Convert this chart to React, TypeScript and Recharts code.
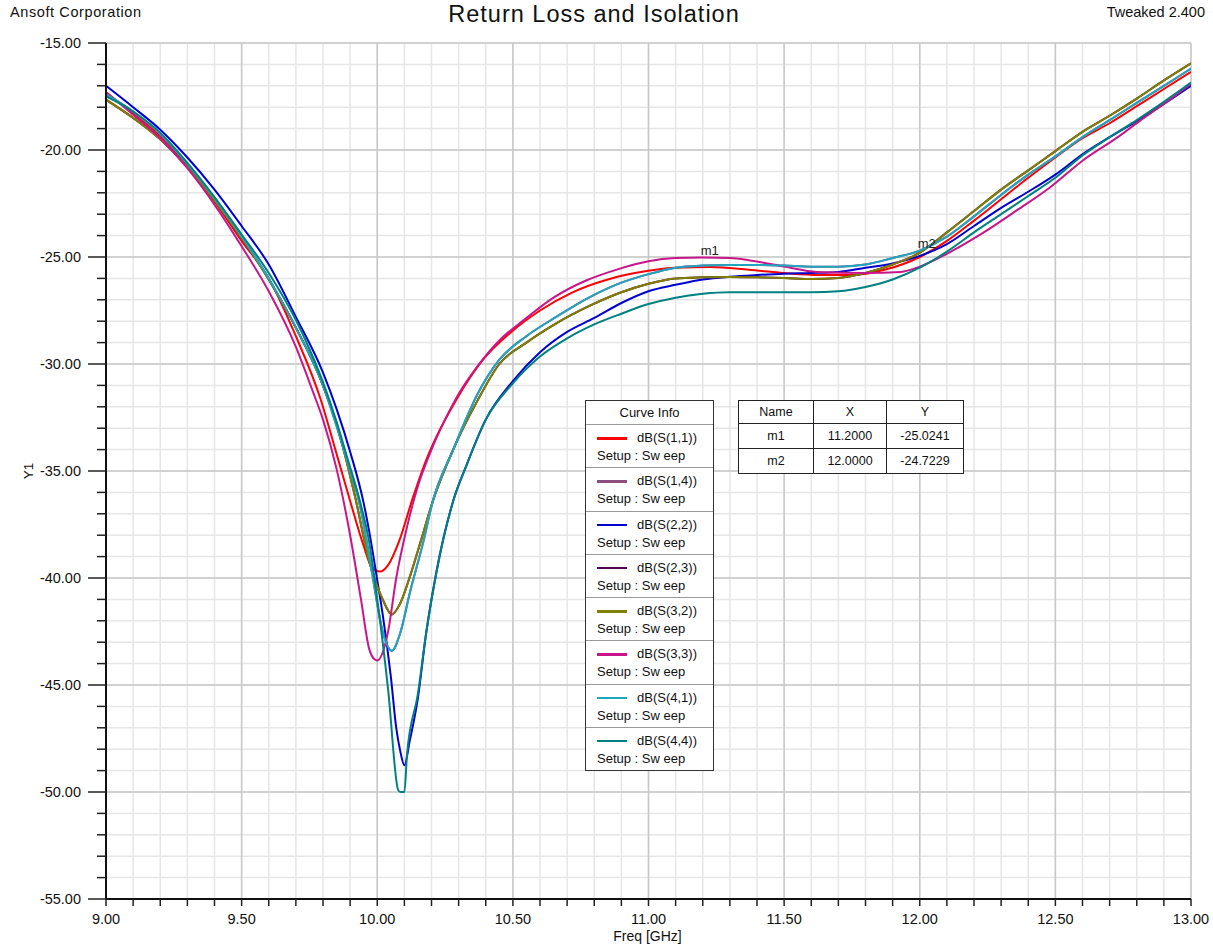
import React from 'react';
import { LineChart, Line, XAxis, YAxis, CartesianGrid, ReferenceDot } from 'recharts';

// ---------- tick values ----------
const X_TICKS = [
  9.0, 9.1, 9.2, 9.3, 9.4, 9.5, 9.6, 9.7, 9.8, 9.9,
  10.0, 10.1, 10.2, 10.3, 10.4, 10.5, 10.6, 10.7, 10.8, 10.9,
  11.0, 11.1, 11.2, 11.3, 11.4, 11.5, 11.6, 11.7, 11.8, 11.9,
  12.0, 12.1, 12.2, 12.3, 12.4, 12.5, 12.6, 12.7, 12.8, 12.9, 13.0,
];
const X_MAJOR = [9.0, 9.5, 10.0, 10.5, 11.0, 11.5, 12.0, 12.5, 13.0];
const Y_TICKS = [
  -55, -54, -53, -52, -51, -50, -49, -48, -47, -46,
  -45, -44, -43, -42, -41, -40, -39, -38, -37, -36,
  -35, -34, -33, -32, -31, -30, -29, -28, -27, -26,
  -25, -24, -23, -22, -21, -20, -19, -18, -17, -16, -15,
];
const Y_MAJOR = [-55, -50, -45, -40, -35, -30, -25, -20, -15];

// ---------- series values [freq GHz, dB] ----------
const S11: [number, number][] = [
  [9.0, -17.3], [9.1, -18.3], [9.2, -19.35], [9.3, -20.75], [9.4, -22.4], [9.5, -24.25],
  [9.6, -26.0], [9.7, -28.7], [9.79, -31.6], [9.85, -34.2], [9.9, -36.4], [9.95, -38.5],
  [9.98, -39.5], [10.01, -39.7], [10.04, -39.4], [10.08, -38.3], [10.13, -36.3], [10.18, -34.5],
  [10.22, -33.35], [10.29, -31.7], [10.39, -29.8], [10.49, -28.55], [10.6, -27.5], [10.72, -26.65],
  [10.85, -26.05], [10.95, -25.75], [11.1, -25.5], [11.23, -25.47], [11.37, -25.6], [11.5, -25.75],
  [11.63, -25.84], [11.75, -25.84], [11.87, -25.6], [12.0, -25.0], [12.1, -24.25], [12.2, -23.3],
  [12.3, -22.3], [12.4, -21.3], [12.5, -20.35], [12.6, -19.45], [12.7, -18.75], [12.8, -17.95],
  [12.9, -17.15], [13.0, -16.35],
];
const S22: [number, number][] = [
  [9.0, -17.0], [9.1, -18.0], [9.2, -19.05], [9.3, -20.35], [9.4, -21.85], [9.5, -23.55],
  [9.6, -25.35], [9.7, -27.8], [9.8, -30.4], [9.85, -32.1], [9.9, -34.1], [9.95, -36.5],
  [9.97, -37.8], [10.0, -40.1], [10.02, -41.7], [10.05, -44.6], [10.07, -47.0], [10.085, -48.1],
  [10.1, -48.75], [10.12, -47.6], [10.15, -45.6], [10.18, -42.6], [10.22, -39.6], [10.28, -36.4],
  [10.33, -34.7], [10.4, -32.6], [10.5, -30.8], [10.6, -29.45], [10.7, -28.5], [10.8, -27.85],
  [10.9, -27.15], [11.0, -26.6], [11.1, -26.3], [11.2, -26.05], [11.3, -25.92], [11.4, -25.84],
  [11.5, -25.78], [11.6, -25.75], [11.7, -25.7], [11.8, -25.5], [11.9, -25.3], [12.0, -24.95],
  [12.1, -24.4], [12.2, -23.55], [12.3, -22.7], [12.4, -21.95], [12.5, -21.15], [12.6, -20.2],
  [12.7, -19.4], [12.8, -18.65], [12.9, -17.85], [13.0, -17.0],
];
const S32: [number, number][] = [
  [9.0, -17.65], [9.1, -18.5], [9.2, -19.5], [9.3, -20.8], [9.4, -22.35], [9.5, -24.1],
  [9.6, -26.05], [9.7, -28.3], [9.8, -31.0], [9.85, -32.8], [9.88, -34.2], [9.92, -36.3],
  [9.97, -39.2], [10.02, -41.0], [10.054, -41.7], [10.084, -41.2], [10.12, -39.95], [10.16, -38.3],
  [10.205, -36.4], [10.28, -34.0], [10.37, -31.7], [10.45, -30.0], [10.55, -29.0], [10.66, -28.1],
  [10.78, -27.3], [10.9, -26.65], [11.0, -26.25], [11.1, -26.0], [11.2, -25.95], [11.3, -25.93],
  [11.4, -25.95], [11.5, -25.98], [11.6, -26.03], [11.7, -25.98], [11.8, -25.75], [11.9, -25.35],
  [12.0, -24.8], [12.1, -23.85], [12.2, -22.85], [12.3, -21.85], [12.4, -20.95], [12.5, -20.05],
  [12.6, -19.15], [12.7, -18.4], [12.8, -17.6], [12.9, -16.75], [13.0, -15.95],
];
const S33: [number, number][] = [
  [9.0, -17.3], [9.1, -18.35], [9.2, -19.45], [9.3, -20.85], [9.4, -22.55], [9.5, -24.5],
  [9.6, -26.6], [9.7, -29.2], [9.76, -31.2], [9.8, -32.6], [9.85, -34.9], [9.9, -38.0],
  [9.94, -41.0], [9.97, -43.3], [9.99, -43.8], [10.0, -43.85], [10.04, -42.5], [10.07, -40.0],
  [10.11, -37.6], [10.15, -35.7], [10.2, -34.0], [10.25, -32.6], [10.3, -31.4], [10.37, -30.1],
  [10.45, -28.9], [10.54, -27.95], [10.65, -26.9], [10.77, -26.1], [10.88, -25.6], [11.0, -25.2],
  [11.1, -25.05], [11.2, -25.02], [11.3, -25.05], [11.37, -25.15], [11.5, -25.45], [11.62, -25.7],
  [11.8, -25.75], [11.93, -25.7], [12.0, -25.45], [12.1, -24.85], [12.23, -23.9], [12.36, -22.8],
  [12.48, -21.75], [12.6, -20.5], [12.73, -19.4], [12.81, -18.65], [12.9, -17.85], [13.0, -16.9],
];
const S41: [number, number][] = [
  [9.0, -17.4], [9.1, -18.2], [9.2, -19.25], [9.3, -20.65], [9.4, -22.25], [9.5, -24.05],
  [9.6, -26.0], [9.7, -28.3], [9.8, -31.0], [9.85, -32.9], [9.9, -35.0], [9.936, -36.6],
  [9.96, -38.2], [9.984, -40.0], [10.02, -42.5], [10.054, -43.4], [10.084, -42.6], [10.12, -40.7],
  [10.17, -38.3], [10.205, -36.4], [10.28, -34.0], [10.37, -31.4], [10.45, -29.8], [10.55, -28.7],
  [10.66, -27.8], [10.78, -26.9], [10.9, -26.2], [11.0, -25.8], [11.1, -25.5], [11.2, -25.4],
  [11.3, -25.37], [11.4, -25.37], [11.5, -25.4], [11.6, -25.45], [11.7, -25.45], [11.8, -25.35],
  [11.9, -25.05], [12.0, -24.7], [12.1, -24.05], [12.2, -23.1], [12.3, -22.1], [12.4, -21.15],
  [12.5, -20.3], [12.6, -19.4], [12.7, -18.6], [12.8, -17.8], [12.9, -17.0], [13.0, -16.2],
];
const S44: [number, number][] = [
  [9.0, -17.5], [9.1, -18.2], [9.2, -19.2], [9.3, -20.6], [9.4, -22.2], [9.5, -23.95],
  [9.6, -25.75], [9.7, -27.95], [9.75, -29.3], [9.8, -30.85], [9.85, -32.7], [9.89, -34.4],
  [9.94, -36.6], [9.97, -38.3], [10.0, -41.0], [10.04, -45.2], [10.077, -49.9], [10.085, -50.0],
  [10.1, -50.0], [10.11, -48.2], [10.15, -45.4], [10.18, -42.6], [10.22, -39.6], [10.28, -36.4],
  [10.33, -34.7], [10.4, -32.6], [10.5, -30.9], [10.6, -29.65], [10.7, -28.8], [10.8, -28.15],
  [10.9, -27.65], [11.0, -27.2], [11.1, -26.9], [11.2, -26.72], [11.3, -26.65], [11.4, -26.65],
  [11.5, -26.65], [11.6, -26.65], [11.7, -26.6], [11.8, -26.4], [11.9, -26.05], [12.0, -25.5],
  [12.1, -24.75], [12.2, -23.85], [12.3, -23.0], [12.4, -22.15], [12.5, -21.3], [12.6, -20.25],
  [12.7, -19.4], [12.8, -18.6], [12.9, -17.75], [13.0, -16.85],
];
// reciprocal transmission terms coincide with their counterparts
const S14 = S41;
const S23 = S32;

const MARKERS = [
  { name: 'm1', x: 11.2, y: -25.0241 },
  { name: 'm2', x: 12.0, y: -24.7229 },
];

const SERIES = [
  { name: 'dB(S(1,1))', color: '#FF0000', pts: S11 },
  { name: 'dB(S(1,4))', color: '#8C4C80', pts: S14 },
  { name: 'dB(S(2,2))', color: '#0000D0', pts: S22 },
  { name: 'dB(S(2,3))', color: '#500050', pts: S23 },
  { name: 'dB(S(3,2))', color: '#808000', pts: S32 },
  { name: 'dB(S(3,3))', color: '#C8168A', pts: S33 },
  { name: 'dB(S(4,1))', color: '#1FA6BF', pts: S41 },
  { name: 'dB(S(4,4))', color: '#008080', pts: S44 },
];

const FONT = '"Liberation Sans", Arial, Helvetica, sans-serif';
const W = 1213;
const H = 944;

const XTick = (props: any) => {
  const { x, y, payload } = props;
  const major = X_MAJOR.includes(payload.value);
  return (
    <g>
      <line x1={x} y1={y} x2={x} y2={y + 7} stroke="#222" strokeWidth={1.5} />
      {major && (
        <text x={x} y={y + 25} textAnchor="middle" fontSize={14.5} fontFamily={FONT} fill="#111">
          {payload.value.toFixed(2)}
        </text>
      )}
    </g>
  );
};

const YTick = (props: any) => {
  const { x, y, payload } = props;
  const major = Y_MAJOR.includes(payload.value);
  return (
    <g>
      <line x1={x} y1={y} x2={x - (major ? 18 : 9)} y2={y} stroke="#222" strokeWidth={1.5} />
      {major && (
        <text x={x - 25} y={y} dy="0.36em" textAnchor="end" fontSize={14.5} fontFamily={FONT} fill="#111">
          {payload.value.toFixed(2)}
        </text>
      )}
    </g>
  );
};

const MarkerLabel = (name: string) => (p: any) => (
  <text x={p.viewBox.x} y={p.viewBox.y - 1} textAnchor="start" fontSize={13} fontFamily={FONT} fill="#222">
    {name}
  </text>
);

const cell: React.CSSProperties = {
  border: '1.5px solid #222',
  textAlign: 'center',
  padding: 0,
  fontSize: 12.5,
  fontFamily: FONT,
  color: '#111',
};

export default function App() {
  return (
    <div style={{ position: 'absolute', left: 0, top: 0, width: W, height: H, background: '#fff', fontFamily: FONT }}>
      <LineChart width={W} height={H} margin={{ top: 43, right: 22, bottom: 15, left: 46 }}>
        <CartesianGrid stroke="#e6e6e6" strokeWidth={1.5} />
        <CartesianGrid stroke="#c8c8c8" strokeWidth={1.5} horizontalValues={Y_MAJOR} verticalValues={X_MAJOR} />
        <XAxis
          xAxisId={0}
          dataKey="f"
          type="number"
          domain={[9, 13]}
          ticks={X_TICKS}
          interval={0}
          tickSize={0}
          tickMargin={0}
          tick={<XTick />}
          tickLine={false}
          height={30}
          axisLine={{ stroke: '#111', strokeWidth: 2 }}
          allowDataOverflow
          label={{
            value: 'Freq [GHz]',
            content: (p: any) => (
              <text x={p.viewBox.x + p.viewBox.width / 2 - 1} y={p.viewBox.y + 42} textAnchor="middle" fontSize={14} fontFamily={FONT} fill="#111">
                Freq [GHz]
              </text>
            ),
          }}
        />
        <XAxis xAxisId="top" orientation="top" type="number" domain={[9, 13]} height={0} tick={false} tickLine={false} axisLine={{ stroke: '#111', strokeWidth: 2 }} />
        <YAxis
          yAxisId={0}
          type="number"
          domain={[-55, -15]}
          ticks={Y_TICKS}
          interval={0}
          tickSize={0}
          tickMargin={0}
          tick={<YTick />}
          tickLine={false}
          width={60}
          axisLine={{ stroke: '#111', strokeWidth: 2 }}
          allowDataOverflow
          label={{
            value: 'Y1',
            content: (p: any) => {
              const cx = p.viewBox.x - 18;
              const cy = p.viewBox.y + p.viewBox.height / 2;
              return (
                <text x={cx} y={cy} transform={`rotate(-90 ${cx} ${cy})`} textAnchor="middle" dy="0.35em" fontSize={13.5} fontFamily={FONT} fill="#111">
                  Y1
                </text>
              );
            },
          }}
        />
        <YAxis yAxisId="right" orientation="right" type="number" domain={[-55, -15]} width={0} tick={false} tickLine={false} axisLine={{ stroke: '#111', strokeWidth: 2 }} />
        {SERIES.map((s) => (
          <Line
            key={s.name}
            data={s.pts.map(([f, v]) => ({ f, v }))}
            dataKey="v"
            name={s.name}
            type="monotone"
            stroke={s.color}
            strokeWidth={2}
            dot={false}
            activeDot={false}
            isAnimationActive={false}
          />
        ))}
        {MARKERS.map((m) => (
          <ReferenceDot key={m.name} x={m.x} y={m.y} r={2} fill="none" stroke="none" label={{ value: m.name, content: MarkerLabel(m.name) }} />
        ))}
      </LineChart>

      {/* header texts */}
      <div style={{ position: 'absolute', left: 10, top: 4, fontSize: 14.5, letterSpacing: 0.6, color: '#111', whiteSpace: 'nowrap' }}>Ansoft Corporation</div>
      <div style={{ position: 'absolute', left: 0, width: 1188, top: 1, textAlign: 'center', fontSize: 23.5, letterSpacing: 1, color: '#111', whiteSpace: 'nowrap' }}>
        Return Loss and Isolation
      </div>
      <div style={{ position: 'absolute', right: 8, top: 4, fontSize: 14.5, color: '#111', whiteSpace: 'nowrap' }}>Tweaked 2.400</div>

      {/* Curve Info legend */}
      <div
        style={{
          position: 'absolute',
          left: 585,
          top: 400,
          width: 129,
          boxSizing: 'border-box',
          border: '1.5px solid #333',
          background: '#fff',
          fontSize: 13,
          color: '#111',
        }}
      >
        <div style={{ height: 23, lineHeight: '23px', textAlign: 'center' }}>Curve Info</div>
        {SERIES.map((s) => (
          <div key={s.name} style={{ position: 'relative', height: 43.25, boxSizing: 'border-box', borderTop: '1.5px solid #9a9a9a' }}>
            <div style={{ position: 'absolute', left: 11, top: 12, width: 30, height: 2.5, background: s.color }} />
            <div style={{ position: 'absolute', left: 51, top: 4, lineHeight: '18px', whiteSpace: 'nowrap' }}>{s.name}</div>
            <div style={{ position: 'absolute', left: 11, top: 22, lineHeight: '18px', whiteSpace: 'nowrap' }}>Setup : Sw eep</div>
          </div>
        ))}
      </div>

      {/* marker table */}
      <table
        style={{
          position: 'absolute',
          left: 738,
          top: 400,
          borderCollapse: 'collapse',
          background: '#fff',
        }}
      >
        <tbody>
          <tr style={{ height: 23 }}>
            <td style={{ ...cell, width: 74 }}>Name</td>
            <td style={{ ...cell, width: 72 }}>X</td>
            <td style={{ ...cell, width: 76 }}>Y</td>
          </tr>
          {MARKERS.map((m) => (
            <tr key={m.name} style={{ height: 25 }}>
              <td style={cell}>{m.name}</td>
              <td style={cell}>{m.x.toFixed(4)}</td>
              <td style={cell}>{m.y.toFixed(4)}</td>
            </tr>
          ))}
        </tbody>
      </table>
    </div>
  );
}
